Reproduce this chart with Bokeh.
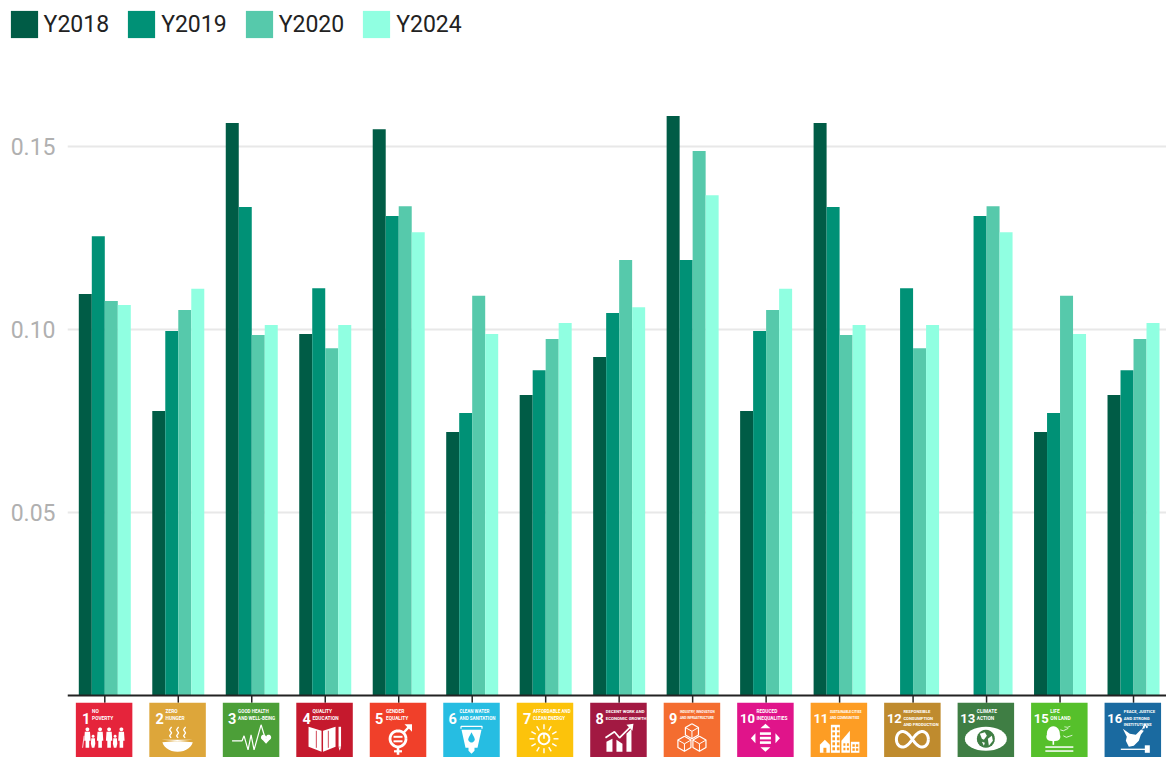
import math
from bokeh.core.properties import value
from bokeh.embed import file_html
from bokeh.layouts import column
from bokeh.models import ColumnDataSource, FixedTicker, Legend, LegendItem, NumeralTickFormatter, Range1d, Span
from bokeh.plotting import figure
from bokeh.resources import INLINE
from bokeh.transform import dodge

goals = ["1", "2", "3", "4", "5", "6", "7", "8", "9", "10", "11", "12", "13", "15", "16"]
y2018 = [.1097, .0777, .1564, .0988, .1547, .0720, .0821, .0925, .1583, .0777, .1564, float("nan"), float("nan"), .0720, .0821]
y2019 = [.1255, .0996, .1335, .1113, .1310, .0772, .0889, .1045, .1190, .0996, .1335, .1113, .1310, .0772, .0889]
y2020 = [.1078, .1053, .0985, .0949, .1337, .1092, .0974, .1190, .1488, .1053, .0985, .0949, .1337, .1092, .0974]
y2024 = [.1067, .1111, .1012, .1012, .1266, .0988, .1018, .1061, .1367, .1111, .1012, .1012, .1266, .0988, .1018]
series_names = ["Y2018", "Y2019", "Y2020", "Y2024"]
series_colors = ["#005c46", "#009176", "#56c9ab", "#90ffe1"]
tick_values = [0.05, 0.10, 0.15]
goal_colors = ["#E5243B", "#DDA63A", "#4C9F38", "#C5192D", "#F0402A", "#26BDE2", "#FCC30B", "#A21942",
               "#F46D30", "#E0148A", "#FD9D24", "#BF8B2E", "#3F7E44", "#56C02B", "#1A6AA0"]
goal_labels = [["NO", "POVERTY"], ["ZERO", "HUNGER"], ["GOOD HEALTH", "AND WELL-BEING"], ["QUALITY", "EDUCATION"],
               ["GENDER", "EQUALITY"], ["CLEAN WATER", "AND SANITATION"], ["AFFORDABLE AND", "CLEAN ENERGY"],
               ["DECENT WORK AND", "ECONOMIC GROWTH"], ["INDUSTRY, INNOVATION", "AND INFRASTRUCTURE"],
               ["REDUCED", "INEQUALITIES"], ["SUSTAINABLE CITIES", "AND COMMUNITIES"],
               ["RESPONSIBLE", "CONSUMPTION", "AND PRODUCTION"], ["CLIMATE", "ACTION"], ["LIFE", "ON LAND"],
               ["PEACE, JUSTICE", "AND STRONG", "INSTITUTIONS"]]
label_offset = [-12, -12, -13, -12, -12, -12, -12, -12.6, -12, -9, -9, -9, -9, -9, -9]
number_offset = [-22, -22, -23, -22, -23, -23, -22, -23, -23, -25.5, -25.5, -25.5, -25.5, -25.5, -25.5]
number_size = ["14.5px"] * 9 + ["13px"] * 6

PITCH = 73.48      # pixels per category
SCALE = 3660.0     # pixels per unit of value
ZERO_PX = 695.0    # page row of value 0
ICON_TOP = 702.3
BAR = 13.0 / PITCH
FONT = "Roboto"
HEAD = 42          # height of the legend strip

source = ColumnDataSource(dict(idx=list(range(len(goals))), Y2018=y2018, Y2019=y2019, Y2020=y2020, Y2024=y2024))

p = figure(width=1166, height=757 - HEAD, output_backend="svg", toolbar_location=None,
           x_range=Range1d(-(104.3 - 67) / PITCH, (1166 - 104.3) / PITCH),
           y_range=Range1d(-(757 - ZERO_PX) / SCALE, (ZERO_PX - HEAD) / SCALE),
           min_border_left=67, min_border_right=0, min_border_top=0, min_border_bottom=0,
           x_axis_location=None, background_fill_color=None, border_fill_color=None, outline_line_color=None,
           frame_align=False)
p.xgrid.visible = False
p.ygrid.ticker = FixedTicker(ticks=tick_values)
p.ygrid.grid_line_color = "#e8e8e8"
p.ygrid.grid_line_width = 2
ax = p.yaxis[0]
ax.ticker = FixedTicker(ticks=tick_values)
ax.formatter = NumeralTickFormatter(format="0.00")
ax.axis_line_color = None
ax.major_tick_line_color = None
ax.minor_tick_line_color = None
ax.major_tick_out = 0
ax.major_tick_in = 0
ax.major_label_standoff = 12
ax.major_label_text_font = "Roboto"
ax.major_label_text_font_size = "23px"
ax.major_label_text_color = "#b0b0b0"

for k, (name, col) in enumerate(zip(series_names, series_colors)):
    p.vbar(x=dodge("idx", (k - 1.5) * BAR, range=p.x_range), top=name, bottom=0, width=BAR, source=source,
           fill_color=col, line_color=None)

# legend strip above the plot: the swatch glyphs share the data, the range keeps the bars out of view
head = figure(width=1166, height=HEAD, output_backend="svg", toolbar_location=None,
              x_range=Range1d(-1, 15), y_range=Range1d(5, 6),
              min_border_left=0, min_border_right=0, min_border_top=0, min_border_bottom=0,
              x_axis_location=None, y_axis_location=None, background_fill_color=None,
              border_fill_color=None, outline_line_color=None, frame_align=False)
head.grid.visible = False
items = []
for name, col in zip(series_names, series_colors):
    r = head.vbar(x="idx", top=name, bottom=0, width=BAR, source=source, fill_color=col, line_color=None)
    items.append(LegendItem(label=name, renderers=[r]))
legend = Legend(items=items, orientation="horizontal", location=(6.6, 1), padding=0, margin=0, spacing=15,
                glyph_width=34, glyph_height=34, label_standoff=3, label_text_font="Roboto",
                label_text_font_size="23px", label_text_color="#222222", background_fill_alpha=0,
                border_line_color=None, label_height=34)
head.add_layout(legend, "center")

p.add_layout(Span(location=0, dimension="width", line_color="#222222", line_width=2))


def X(i, u):
    return i + u / PITCH


def Y(v):
    return (ZERO_PX - (ICON_TOP + v)) / SCALE


polys = dict(x=[], y=[], c=[])
lines = dict(x=[], y=[], c=[], w=[])


def poly(i, pts, c="white"):
    polys["x"].append([X(i, a) for a, _ in pts])
    polys["y"].append([Y(b) for _, b in pts])
    polys["c"].append(c)


def line(i, pts, w=1.0, c="white"):
    lines["x"].append([X(i, a) for a, _ in pts])
    lines["y"].append([Y(b) for _, b in pts])
    lines["c"].append(c)
    lines["w"].append(w)


def disc(i, u, v, r, c="white", ry=None):
    ry = r if ry is None else ry
    poly(i, [(u + r * math.cos(t * math.pi / 12), v + ry * math.sin(t * math.pi / 12)) for t in range(24)], c)


def ring(i, u, v, r, w=2.0, c="white"):
    line(i, [(u + r * math.cos(t * math.pi / 14), v + r * math.sin(t * math.pi / 14)) for t in range(29)], w, c)


def box(i, a, b, c_, d, c="white"):
    poly(i, [(a, b), (c_, b), (c_, d), (a, d)], c)


def icon_people(i, col):
    for u in (-16.7, -4, 5, 17.3):
        disc(i, u, 26.5, 1.9)
        poly(i, [(u - 2.6, 29), (u + 2.6, 29), (u + 3.2, 38), (u + 1.8, 38), (u + 1.8, 45), (u - 1.8, 45), (u - 1.8, 38), (u - 3.2, 38)])
    for u in (-11, 11):
        disc(i, u, 33.5, 1.5)
        poly(i, [(u - 1.8, 35.5), (u + 1.8, 35.5), (u + 2.2, 41), (u + 1.2, 45), (u - 1.2, 45), (u - 2.2, 41)])
    line(i, [(-21.5, 45), (-20, 33)], 0.8)


def icon_bowl(i, col):
    poly(i, [(-16, 37)] + [(15.5 * math.cos(t * math.pi / 16), 37 + 12 * math.sin(t * math.pi / 16)) for t in range(1, 16)] + [(15, 37)])
    for u in (-7, 0, 7):
        line(i, [(u + 1, 24), (u - 1, 27), (u + 1, 30), (u - 1, 33), (u + 0.5, 35)], 1.3)


def icon_pulse(i, col):
    line(i, [(-19, 38), (-9, 38), (-7, 33), (-3, 47), (0, 32), (3, 47), (10, 22), (14, 35)], 1.2)
    disc(i, 12.5, 34.5, 2.6)
    disc(i, 17.5, 34.5, 2.6)
    poly(i, [(10, 35.5), (20, 35.5), (15, 41)])


def icon_book(i, col):
    poly(i, [(-16, 24), (-3, 28), (-3, 49), (-16, 44)])
    poly(i, [(-1.5, 28), (11, 24), (11, 44), (-1.5, 49)])
    for s in (-1, 1):
        u0 = -2.2 + s * 6
        line(i, [(u0, 28), (u0, 45)], 0.8, col)
    box(i, 14, 24, 16.5, 44)
    poly(i, [(14, 44.5), (16.5, 44.5), (15.2, 48)])


def icon_gender(i, col):
    ring(i, 0, 36, 8, 2.8)
    box(i, -4.5, 33, 4.5, 35)
    box(i, -4.5, 37.5, 4.5, 39.5)
    line(i, [(0, 45), (0, 52)], 2.6)
    line(i, [(-4, 48.5), (4, 48.5)], 2.2)
    line(i, [(5.5, 30), (12, 23)], 2.4)
    poly(i, [(6.5, 21.5), (14, 21.5), (14, 29)])


def icon_glass(i, col):
    line(i, [(-10.5, 23.5), (10.5, 23.5), (10.5, 26)], 1.2)
    line(i, [(-10.5, 23.5), (-10.5, 26)], 1.2)
    poly(i, [(-10, 27), (10, 27), (6, 45), (3, 45), (3, 48), (0, 51), (-3, 48), (-3, 45), (-6, 45)])
    disc(i, 0, 36.5, 3.2, col)
    poly(i, [(-2.8, 35), (2.8, 35), (0, 29.5)], col)


def icon_sun(i, col):
    ring(i, -1, 36, 5.4, 2.0)
    line(i, [(-1, 30.5), (-1, 36)], 1.6)
    for t in range(12):
        a = t * math.pi / 6
        line(i, [(-1 + 9.5 * math.cos(a), 36 + 9.5 * math.sin(a)), (-1 + 14.5 * math.cos(a), 36 + 14.5 * math.sin(a))], 1.4)


def icon_growth(i, col):
    poly(i, [(-12, 39), (-6, 36), (-6, 49), (-12, 49)])
    poly(i, [(-2, 37), (4, 41), (4, 49), (-2, 49)])
    poly(i, [(8, 31), (13, 26), (13, 49), (8, 49)])
    line(i, [(-13, 35), (-4, 29), (1, 35), (12, 24)], 1.7)
    poly(i, [(8, 22), (15, 21), (14, 28)])


def icon_cubes(i, col):
    for u, v in ((0, 28.5), (-7.5, 41), (7.5, 41)):
        r = 7.5
        w = r * 0.87
        line(i, [(u, v - r), (u + w, v - r / 2), (u + w, v + r / 2), (u, v + r), (u - w, v + r / 2), (u - w, v - r / 2), (u, v - r)], 1.2)
        line(i, [(u - w, v - r / 2), (u, v), (u + w, v - r / 2)], 1.0)
        line(i, [(u, v), (u, v + r)], 1.0)


def icon_arrows(i, col):
    poly(i, [(0, 21), (5, 25.5), (-5, 25.5)])
    poly(i, [(0, 49), (5, 44.5), (-5, 44.5)])
    poly(i, [(-14.5, 35.5), (-10, 30.5), (-10, 40.5)])
    poly(i, [(14.5, 35.5), (10, 30.5), (10, 40.5)])
    for v in (29.5, 34, 38.5):
        box(i, -5.5, v, 5.5, v + 2.6)


def icon_city(i, col):
    poly(i, [(-19, 42), (-14, 37), (-9, 42), (-9, 50), (-19, 50)])
    box(i, -15.5, 45, -12.5, 50, col)
    box(i, -8, 22, 1, 50)
    poly(i, [(2.5, 38), (11, 28), (11, 50), (2.5, 50)])
    box(i, 12, 39, 20.5, 50)
    for r_ in range(5):
        for c_ in (-6.5, -2):
            box(i, c_, 24.5 + r_ * 5, c_ + 2.6, 27.5 + r_ * 5, col)
    for r_ in range(2):
        for c_ in (4.5, 8):
            box(i, c_, 40.5 + r_ * 4.5, c_ + 2, 43 + r_ * 4.5, col)
    for r_ in range(2):
        for c_ in (13.5, 17):
            box(i, c_, 41.5 + r_ * 4, c_ + 2.4, 44 + r_ * 4, col)


def icon_infinity(i, col):
    pts = []
    for t in range(65):
        a = t * math.pi / 32
        d = 1 + math.sin(a) ** 2
        pts.append((16 * math.cos(a) / d, 36.5 + 22 * math.sin(a) * math.cos(a) / d))
    line(i, pts, 3.0)


def icon_eye(i, col):
    upper = [(21 * math.cos(t * math.pi / 16), 36 - 12 * math.sin(t * math.pi / 16)) for t in range(17)]
    lower = [(21 * math.cos(t * math.pi / 16), 36 + 12 * math.sin(t * math.pi / 16)) for t in range(16, 0, -1)]
    poly(i, upper + lower)
    disc(i, 0, 36, 9, col)
    poly(i, [(-6, 31), (-1, 29.5), (1, 33), (-2, 37), (-4, 36)])
    poly(i, [(2, 36), (6, 33), (7, 38), (3, 43)])
    poly(i, [(-4, 39), (-1, 40), (-2, 43)])


def icon_tree(i, col):
    disc(i, -6, 31, 6.5, "white", 7.5)
    disc(i, -3, 34, 4)
    disc(i, -9, 34, 4)
    box(i, -6.8, 35, -5.2, 42)
    box(i, -14, 43.5, 14, 45)
    box(i, -14, 47.5, 14, 49)
    line(i, [(1, 27), (4, 28), (7, 26.5), (9, 25.5)], 0.8)
    line(i, [(4, 33), (7, 34.5), (10, 33.5), (13, 32.5)], 0.8)
    line(i, [(5, 24), (8, 24.5), (11, 23.5)], 0.7)


def icon_dove(i, col):
    poly(i, [(-10, 26), (-3, 31), (3, 32), (8, 27), (11, 28), (8, 32), (6, 38), (1, 43), (-4, 44), (-7, 38), (-6, 34)])
    line(i, [(9, 27), (13, 21)], 0.9)
    for u, v in ((11, 24.5), (12, 22.5), (14, 24)):
        disc(i, u, v, 1.0, "white", 1.4)
    line(i, [(-12, 46.5), (13, 46.5)], 1.3)
    box(i, 12, 42.5, 17, 50)


drawers = [icon_people, icon_bowl, icon_pulse, icon_book, icon_gender, icon_glass, icon_sun, icon_growth,
           icon_cubes, icon_arrows, icon_city, icon_infinity, icon_eye, icon_tree, icon_dove]

idx = list(range(len(goals)))
# tick from the axis to each icon
p.segment(x0=idx, x1=idx, y0=[0] * len(idx), y1=[Y(0)] * len(idx), line_color="#222222", line_width=1.5)
# icon tiles
p.rect(x=[X(i, -0.7) for i in idx], y=[Y(28)] * len(idx), width=56.5 / PITCH, height=56 / SCALE,
       fill_color=goal_colors, line_color=None)

for i, (draw, col) in enumerate(zip(drawers, goal_colors)):
    draw(i, col)
# the drawings are centred on the tile
polys["x"] = [[a - 0.7 / PITCH for a in xs] for xs in polys["x"]]
lines["x"] = [[a - 0.7 / PITCH for a in xs] for xs in lines["x"]]
p.patches("x", "y", source=ColumnDataSource(polys), fill_color="c", line_color=None)
p.multi_line("x", "y", source=ColumnDataSource(lines), line_color="c", line_width="w")

p.text(x=[X(i, number_offset[i] - 0.7) for i in idx], y=[Y(16)] * len(idx), text=goals, text_color="white",
       text_font=value(FONT), text_font_style="bold", text_font_size=number_size, text_baseline="alphabetic")

lab_x, lab_y, lab_t, lab_s = [], [], [], []
for i, rows in enumerate(goal_labels):
    widest = max(len(r) for r in rows)
    size = min(4.8, (27.0 - label_offset[i]) / (0.62 * widest))
    for n, row in enumerate(rows):
        lab_x.append(X(i, label_offset[i] - 0.7))
        lab_y.append(Y(8.8 + n * 6.5))
        lab_t.append(row)
        lab_s.append(f"{size:.2f}px")
p.text(x=lab_x, y=lab_y, text=lab_t, text_color="white", text_font=value(FONT), text_font_style="bold",
       text_font_size=lab_s, text_baseline="alphabetic")

page = column(head, p, spacing=0)
open("out.html", "w").write(file_html(page, INLINE))
